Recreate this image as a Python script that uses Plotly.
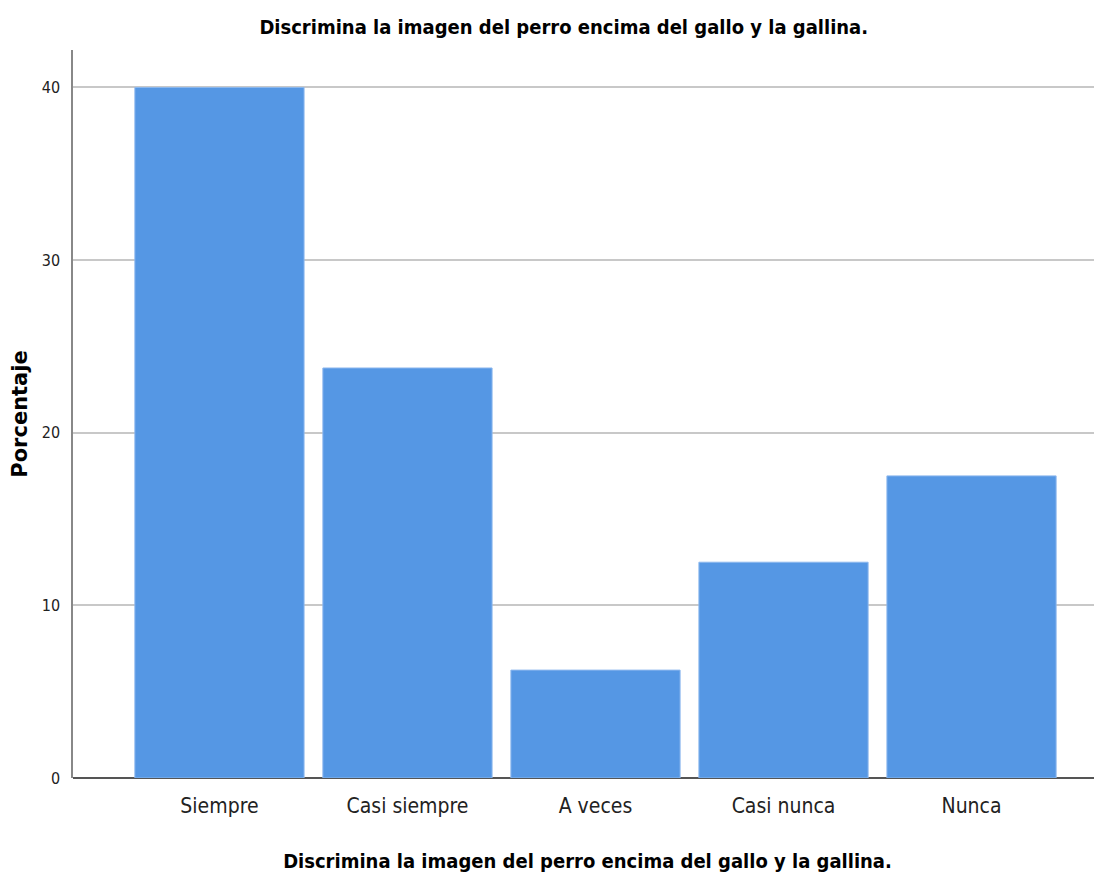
import plotly.graph_objects as go

categories = ["Siempre", "Casi siempre", "A veces", "Casi nunca", "Nunca"]
porcentaje = [40.0, 23.75, 6.25, 12.5, 17.5]
y_ticks = [0, 10, 20, 30, 40]

titulo = "Discrimina la imagen del perro encima del gallo y la gallina."
narrow = "DejaVu Sans Condensed, Liberation Sans Narrow, Arial Narrow, sans-serif"

fig = go.Figure(
    go.Bar(
        x=categories,
        y=porcentaje,
        marker=dict(color="#5597E4", line=dict(color="#8DB8EE", width=1)),
        hoverinfo="x+y",
    )
)

# the page body adds an 8px offset, so the figure is drawn 8px smaller
fig.update_layout(
    width=1094,
    height=865,
    plot_bgcolor="white",
    paper_bgcolor="white",
    showlegend=False,
    bargap=0.1,
    margin=dict(l=65, r=0, t=42, b=95, autoexpand=False),
    title=dict(
        text="<b>" + titulo + "</b>",
        x=0.508,
        xanchor="center",
        y=0.978,
        yanchor="middle",
        font=dict(family=narrow, size=20, color="black"),
    ),
)

fig.update_xaxes(
    type="category",
    range=[-0.779, 4.694],
    showgrid=False,
    showline=False,
    ticks="",
    automargin=False,
    ticklabelstandoff=13,
    tickfont=dict(family=narrow, size=21, color="#222"),
    title=dict(
        text="<b>" + titulo + "</b>",
        font=dict(family=narrow, size=20, color="black"),
        standoff=36,
    ),
)

fig.update_yaxes(
    range=[0, 42.17],
    tickvals=y_ticks,
    showgrid=True,
    gridcolor="#C8C8C8",
    gridwidth=1.5,
    showline=True,
    linecolor="#888888",
    linewidth=1.5,
    zeroline=True,
    zerolinecolor="#555555",
    zerolinewidth=1.5,
    ticks="",
    automargin=False,
    ticklabelstandoff=8,
    tickfont=dict(family=narrow, size=16, color="#222"),
    title=dict(
        text="<b>Porcentaje</b>",
        font=dict(family="DejaVu Sans, Liberation Sans, sans-serif", size=21, color="black"),
        standoff=18,
    ),
)

fig.write_html("out.html")
